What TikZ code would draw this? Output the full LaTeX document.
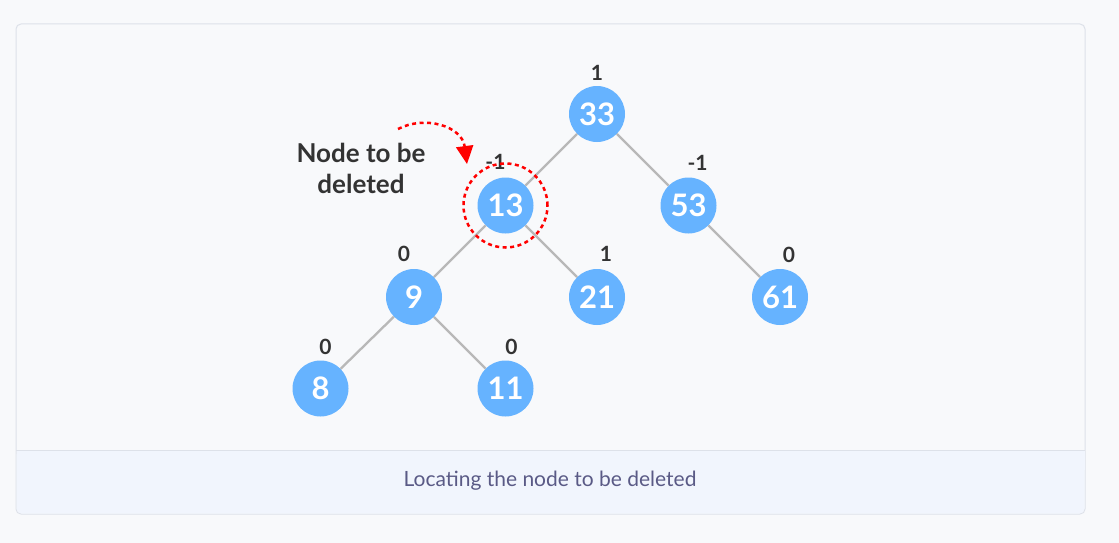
\documentclass[tikz,border=0pt]{standalone}
\usepackage{fontspec}
\setmainfont{Lato}
\usetikzlibrary{positioning, arrows.meta}
\definecolor{pagebg}{HTML}{F8F9FB}
\definecolor{cardline}{HTML}{DDE1E9}
\definecolor{captionbg}{HTML}{F1F5FD}
\definecolor{captiontext}{HTML}{5A5A86}
\definecolor{nodeblue}{HTML}{66B3FF}
\definecolor{edgegray}{HTML}{B8B8B8}
\definecolor{labeldark}{HTML}{333333}
\tikzset{treenode/.style={circle, fill=nodeblue, minimum size=56pt, inner sep=0pt, text=white, font=\fontsize{31}{31}\selectfont\bfseries}}
\tikzset{balance/.style={text=labeldark, font=\fontsize{21}{21}\selectfont\bfseries, inner sep=0pt}}
\tikzset{treeedge/.style={draw=edgegray, line width=2.3pt}}
\tikzset{marker/.style={draw=red, line width=2.5pt, dash pattern=on 4pt off 3.5pt}}
\tikzset{note/.style={text=labeldark, align=center, font=\fontsize{26}{31}\selectfont\bfseries}}

\begin{document}
\begin{tikzpicture}[x=1pt, y=-1pt, node distance=91.5pt and 91.5pt, on grid]
\useasboundingbox[fill=pagebg] (0,0) rectangle (1119,543);
\draw[cardline, fill=pagebg, rounded corners=5pt, line width=1pt] (16,24) rectangle (1085,514);
\fill[captionbg, rounded corners=5pt] (16.5,450) rectangle (1084.5,513.5);
\fill[captionbg] (16.5,450) rectangle (1084.5,470);
\draw[cardline, line width=1pt] (16,450) -- (1085,450);
\node[text=captiontext, font=\fontsize{21}{21}\selectfont] (caption) at (550,481) {Locating the node to be deleted};

% tree
\node[treenode] (n33) at (597,114) {33};
\node[treenode, below left=of n33] (n13) {13};
\node[treenode, below right=of n33] (n53) {53};
\node[treenode, below left=of n13] (n9) {9};
\node[treenode, below right=of n13] (n21) {21};
\node[treenode, below right=of n53] (n61) {61};
\node[treenode, below left=of n9, xshift=-2pt] (n8) {8};
\node[treenode, below right=of n9] (n11) {11};

\draw[treeedge] (n33) -- (n13);
\draw[treeedge] (n33) -- (n53);
\draw[treeedge] (n13) -- (n9);
\draw[treeedge] (n13) -- (n21);
\draw[treeedge] (n53) -- (n61);
\draw[treeedge] (n9) -- (n8);
\draw[treeedge] (n9) -- (n11);

% balance factors
\node[balance, above=41pt of n33] (b33) {1};
\node[balance, above=44pt of n13, xshift=-10pt] (b13) {-1};
\node[balance, above=43pt of n53, xshift=9pt] (b53) {-1};
\node[balance, above=43pt of n9, xshift=-10pt] (b9) {0};
\node[balance, above=43pt of n21, xshift=9pt] (b21) {1};
\node[balance, above=42pt of n61, xshift=9pt] (b61) {0};
\node[balance, above=42pt of n8, xshift=5pt] (b8) {0};
\node[balance, above=42pt of n11, xshift=6pt] (b11) {0};

% marker round the node to delete
\node[note] (deletenote) at (361,168) {Node to be\\deleted};
\node[marker, circle, minimum size=84pt, inner sep=0pt] (ring) at (n13) {};
\coordinate (arrowstart) at (398,129);
\coordinate (arrowend) at (467,164);
\draw[marker, -{Triangle[length=18pt, width=17pt, fill=red]}] (arrowstart) .. controls (425,115) and (462,126) .. (arrowend);
\end{tikzpicture}
\end{document}
